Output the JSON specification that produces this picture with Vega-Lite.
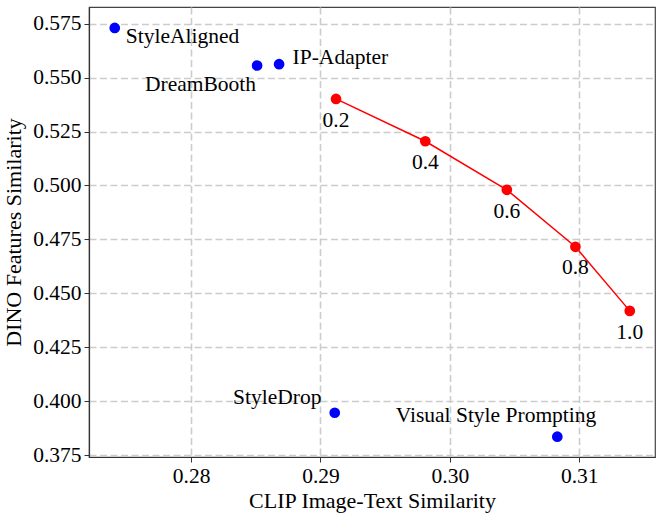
{
  "$schema": "https://vega.github.io/schema/vega-lite/v6.json",
  "description": "CLIP vs DINO similarity",
  "width": 566,
  "height": 450,
  "autosize": {"type": "none"},
  "padding": {"left": 89, "top": 7, "right": 9, "bottom": 59},
  "datasets": {
    "methods": [
      {"method": "StyleAligned", "clip": 0.2741, "dino": 0.5730},
      {"method": "DreamBooth", "clip": 0.2851, "dino": 0.5556},
      {"method": "IP-Adapter", "clip": 0.2868, "dino": 0.5562},
      {"method": "StyleDrop", "clip": 0.2911, "dino": 0.3947},
      {"method": "Visual Style Prompting", "clip": 0.3083, "dino": 0.3836}
    ],
    "ours": [
      {"scale": "0.2", "clip": 0.2912, "dino": 0.5401},
      {"scale": "0.4", "clip": 0.2981, "dino": 0.5205},
      {"scale": "0.6", "clip": 0.3044, "dino": 0.4980},
      {"scale": "0.8", "clip": 0.3097, "dino": 0.4716},
      {"scale": "1.0", "clip": 0.3139, "dino": 0.4419}
    ]
  },
  "encoding": {
    "x": {
      "field": "clip",
      "type": "quantitative",
      "title": "CLIP Image-Text Similarity",
      "scale": {"domain": [0.27211, 0.31585], "nice": false, "zero": false},
      "axis": {"values": [0.28, 0.29, 0.30, 0.31], "format": ".2f", "titlePadding": 4}
    },
    "y": {
      "field": "dino",
      "type": "quantitative",
      "title": "DINO Features Similarity",
      "scale": {"domain": [0.3742, 0.5827], "nice": false, "zero": false},
      "axis": {"values": [0.375, 0.4, 0.425, 0.45, 0.475, 0.5, 0.525, 0.55, 0.575], "format": ".3f", "titlePadding": 7}
    }
  },
  "layer": [
    {
      "data": {"name": "ours"},
      "mark": {"type": "line", "color": "#ff0000", "strokeWidth": 1.5}
    },
    {
      "data": {"name": "ours"},
      "mark": {"type": "circle", "color": "#ff0000", "size": 115, "opacity": 1}
    },
    {
      "data": {"name": "ours"},
      "mark": {"type": "text", "align": "center", "baseline": "alphabetic", "dy": 27.7, "font": "Times New Roman, Liberation Serif, serif", "fontSize": 21.5, "color": "black"},
      "encoding": {"text": {"field": "scale"}}
    },
    {
      "data": {"name": "methods"},
      "mark": {"type": "circle", "color": "#0000ff", "size": 115, "opacity": 1}
    },
    {
      "data": {"name": "methods"},
      "transform": [{"filter": "datum.method == 'StyleAligned'"}],
      "mark": {"type": "text", "align": "left", "baseline": "alphabetic", "dx": 11, "dy": 15, "font": "Times New Roman, Liberation Serif, serif", "fontSize": 21.5, "color": "black"},
      "encoding": {"text": {"field": "method"}}
    },
    {
      "data": {"name": "methods"},
      "transform": [{"filter": "datum.method == 'IP-Adapter'"}],
      "mark": {"type": "text", "align": "left", "baseline": "alphabetic", "dx": 13.5, "dy": 0, "font": "Times New Roman, Liberation Serif, serif", "fontSize": 21.5, "color": "black"},
      "encoding": {"text": {"field": "method"}}
    },
    {
      "data": {"name": "methods"},
      "transform": [{"filter": "datum.method == 'DreamBooth'"}],
      "mark": {"type": "text", "align": "right", "baseline": "alphabetic", "dx": -1, "dy": 25.7, "font": "Times New Roman, Liberation Serif, serif", "fontSize": 21.5, "color": "black"},
      "encoding": {"text": {"field": "method"}}
    },
    {
      "data": {"name": "methods"},
      "transform": [{"filter": "datum.method == 'StyleDrop'"}],
      "mark": {"type": "text", "align": "right", "baseline": "alphabetic", "dx": -13.3, "dy": -8.4, "font": "Times New Roman, Liberation Serif, serif", "fontSize": 21.5, "color": "black"},
      "encoding": {"text": {"field": "method"}}
    },
    {
      "data": {"name": "methods"},
      "transform": [{"filter": "datum.method == 'Visual Style Prompting'"}],
      "mark": {"type": "text", "align": "right", "baseline": "alphabetic", "dx": 39, "dy": -14.4, "font": "Times New Roman, Liberation Serif, serif", "fontSize": 21.5, "color": "black"},
      "encoding": {"text": {"field": "method"}}
    }
  ],
  "config": {
    "font": "Times New Roman, Liberation Serif, serif",
    "view": {"stroke": "#444444", "strokeWidth": 1.2},
    "axis": {
      "labelFont": "Times New Roman, Liberation Serif, serif",
      "labelFontSize": 21.5,
      "labelColor": "black",
      "labelPadding": 3,
      "titleFont": "Times New Roman, Liberation Serif, serif",
      "titleFontSize": 22,
      "titleFontWeight": "normal",
      "titleColor": "black",
      "domainColor": "#333333",
      "domainWidth": 1.2,
      "tickColor": "#333333",
      "tickSize": 5,
      "tickWidth": 1,
      "grid": true,
      "gridColor": "#cccccc",
      "gridWidth": 1.6,
      "gridDash": [7, 3.5],
      "gridOpacity": 1
    }
  }
}
